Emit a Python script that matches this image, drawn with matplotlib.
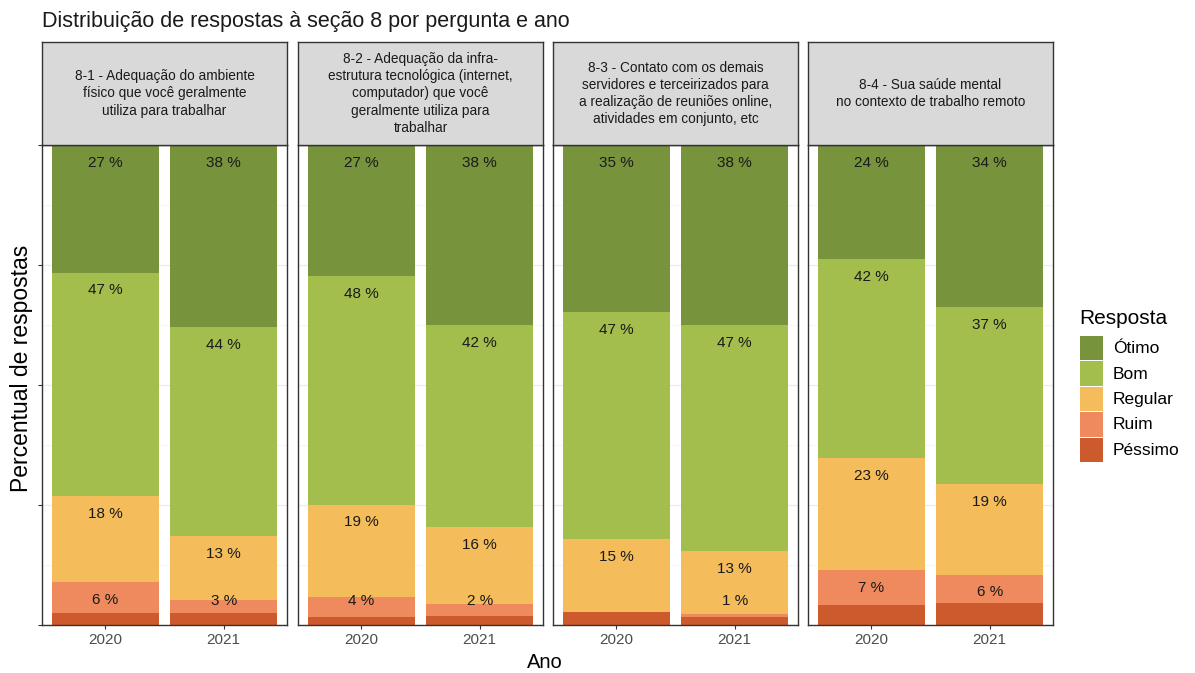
import numpy as np
import matplotlib.pyplot as plt
from matplotlib.patches import Rectangle

plt.rcParams['font.family'] = ['Liberation Sans', 'DejaVu Sans']

# dados
perguntas = [
    '8-1 - Adequação do ambiente\nfísico que você geralmente\nutiliza para trabalhar',
    '8-2 - Adequação da infra-\nestrutura tecnológica (internet,\ncomputador) que você\ngeralmente utiliza para\ntrabalhar',
    '8-3 - Contato com os demais\nservidores e terceirizados para\na realização de reuniões online,\natividades em conjunto, etc',
    '8-4 - Sua saúde mental\nno contexto de trabalho remoto',
]
anos = ['2020', '2021']
respostas = ['Ótimo', 'Bom', 'Regular', 'Ruim', 'Péssimo']
cores = ['#77933C', '#A3BE4C', '#F4BC5A', '#EE8A5E', '#CC5A2C']

# percentuais [pergunta][ano] na ordem Ótimo, Bom, Regular, Ruim, Péssimo
otimo = [[26.6, 37.9], [27.3, 37.6], [34.8, 37.6], [23.7, 33.8]]
bom = [[46.6, 43.6], [47.6, 42.0], [47.3, 47.0], [41.6, 36.9]]
regular = [[17.9, 13.3], [19.2, 16.1], [15.2, 13.1], [23.2, 18.8]]
ruim = [[6.3, 2.6], [4.3, 2.4], [0.0, 0.6], [7.4, 6.0]]
pessimo = [[2.6, 2.6], [1.6, 1.9], [2.7, 1.7], [4.1, 4.5]]

W, H = 1195, 673
fig = plt.figure(figsize=(W / 100, H / 100), dpi=100)

def fx(px):
    return px / W

def fy(py):
    return 1 - py / H

lefts = [42, 298, 553, 808]
pw = 245
top, bottom, strip_top = 145, 625, 42

for i in range(4):
    ax = fig.add_axes([fx(lefts[i]), fy(bottom), pw / W, (bottom - top) / H])
    vals = np.array([otimo[i], bom[i], regular[i], ruim[i], pessimo[i]])
    x = np.arange(2)
    base = np.zeros(2)
    # empilhar de baixo (Péssimo) para cima (Ótimo)
    for k in range(4, -1, -1):
        ax.bar(x, vals[k], bottom=base, width=0.9, color=cores[k], zorder=2)
        base = base + vals[k]
    # rótulos: topo de cada segmento menos um deslocamento
    tops = np.cumsum(vals[::-1], axis=0)[::-1]
    for k in range(4):
        for j in range(2):
            if vals[k, j] <= 0:
                continue
            y = max(tops[k, j] - 3.7, 5.0)
            ax.text(x[j], y, f'{round(vals[k, j]):.0f} %', ha='center', va='center',
                    fontsize=11, color='#1a1a1a', zorder=3)
    ax.set_xlim(-0.535, 1.535)
    ax.set_ylim(0, 100)
    ax.set_yticks([0, 25, 50, 75, 100])
    ax.set_yticks([12.5, 37.5, 62.5, 87.5], minor=True)
    ax.set_xticks(x)
    ax.set_xticklabels(anos, fontsize=11, color='#4D4D4D')
    ax.grid(which='major', color='#EBEBEB', lw=0.9, zorder=0)
    ax.grid(which='minor', axis='y', color='#F3F3F3', lw=0.5, zorder=0)
    ax.tick_params(axis='x', length=3, color='#333333', pad=3)
    if i == 0:
        ax.set_yticklabels([])
        ax.tick_params(axis='y', which='major', length=3, color='#333333')
        ax.tick_params(axis='y', which='minor', length=0)
    else:
        ax.tick_params(axis='y', which='both', length=0, labelleft=False)
    for s in ax.spines.values():
        s.set_color('#333333')
        s.set_linewidth(1.0)

    # faixa do título da pergunta
    st = fig.add_axes([fx(lefts[i]), fy(top), pw / W, (top - strip_top) / H])
    st.set_facecolor('#D9D9D9')
    st.set_xticks([])
    st.set_yticks([])
    for s in st.spines.values():
        s.set_color('#333333')
        s.set_linewidth(1.0)
    st.text(0.5, 0.5, perguntas[i], ha='center', va='center', fontsize=9.8,
            color='#1a1a1a', linespacing=1.3, transform=st.transAxes)

fig.text(fx(42), fy(21), 'Distribuição de respostas à seção 8 por pergunta e ano',
         fontsize=15.5, ha='left', va='center', color='#1a1a1a')
fig.text(fx(545), fy(662), 'Ano', fontsize=14.5, ha='center', va='center')
fig.text(fx(22), fy(368), 'Percentual de respostas', fontsize=16.5, ha='center',
         va='center', rotation=90)

# legenda
fig.text(fx(1079), fy(318), 'Resposta', fontsize=15, ha='left', va='center')
key_top, key_h, key_w = 336, 25.4, 23
for k, (c, r) in enumerate(zip(cores, respostas)):
    y0 = key_top + k * key_h
    fig.patches.append(Rectangle((fx(1080), fy(y0 + key_h - 1)), key_w / W, (key_h - 1) / H,
                                 transform=fig.transFigure, facecolor=c, edgecolor='none'))
    fig.text(fx(1113), fy(y0 + key_h / 2), r, fontsize=12.5, ha='left', va='center')

fig.savefig('out.png', dpi=100)
